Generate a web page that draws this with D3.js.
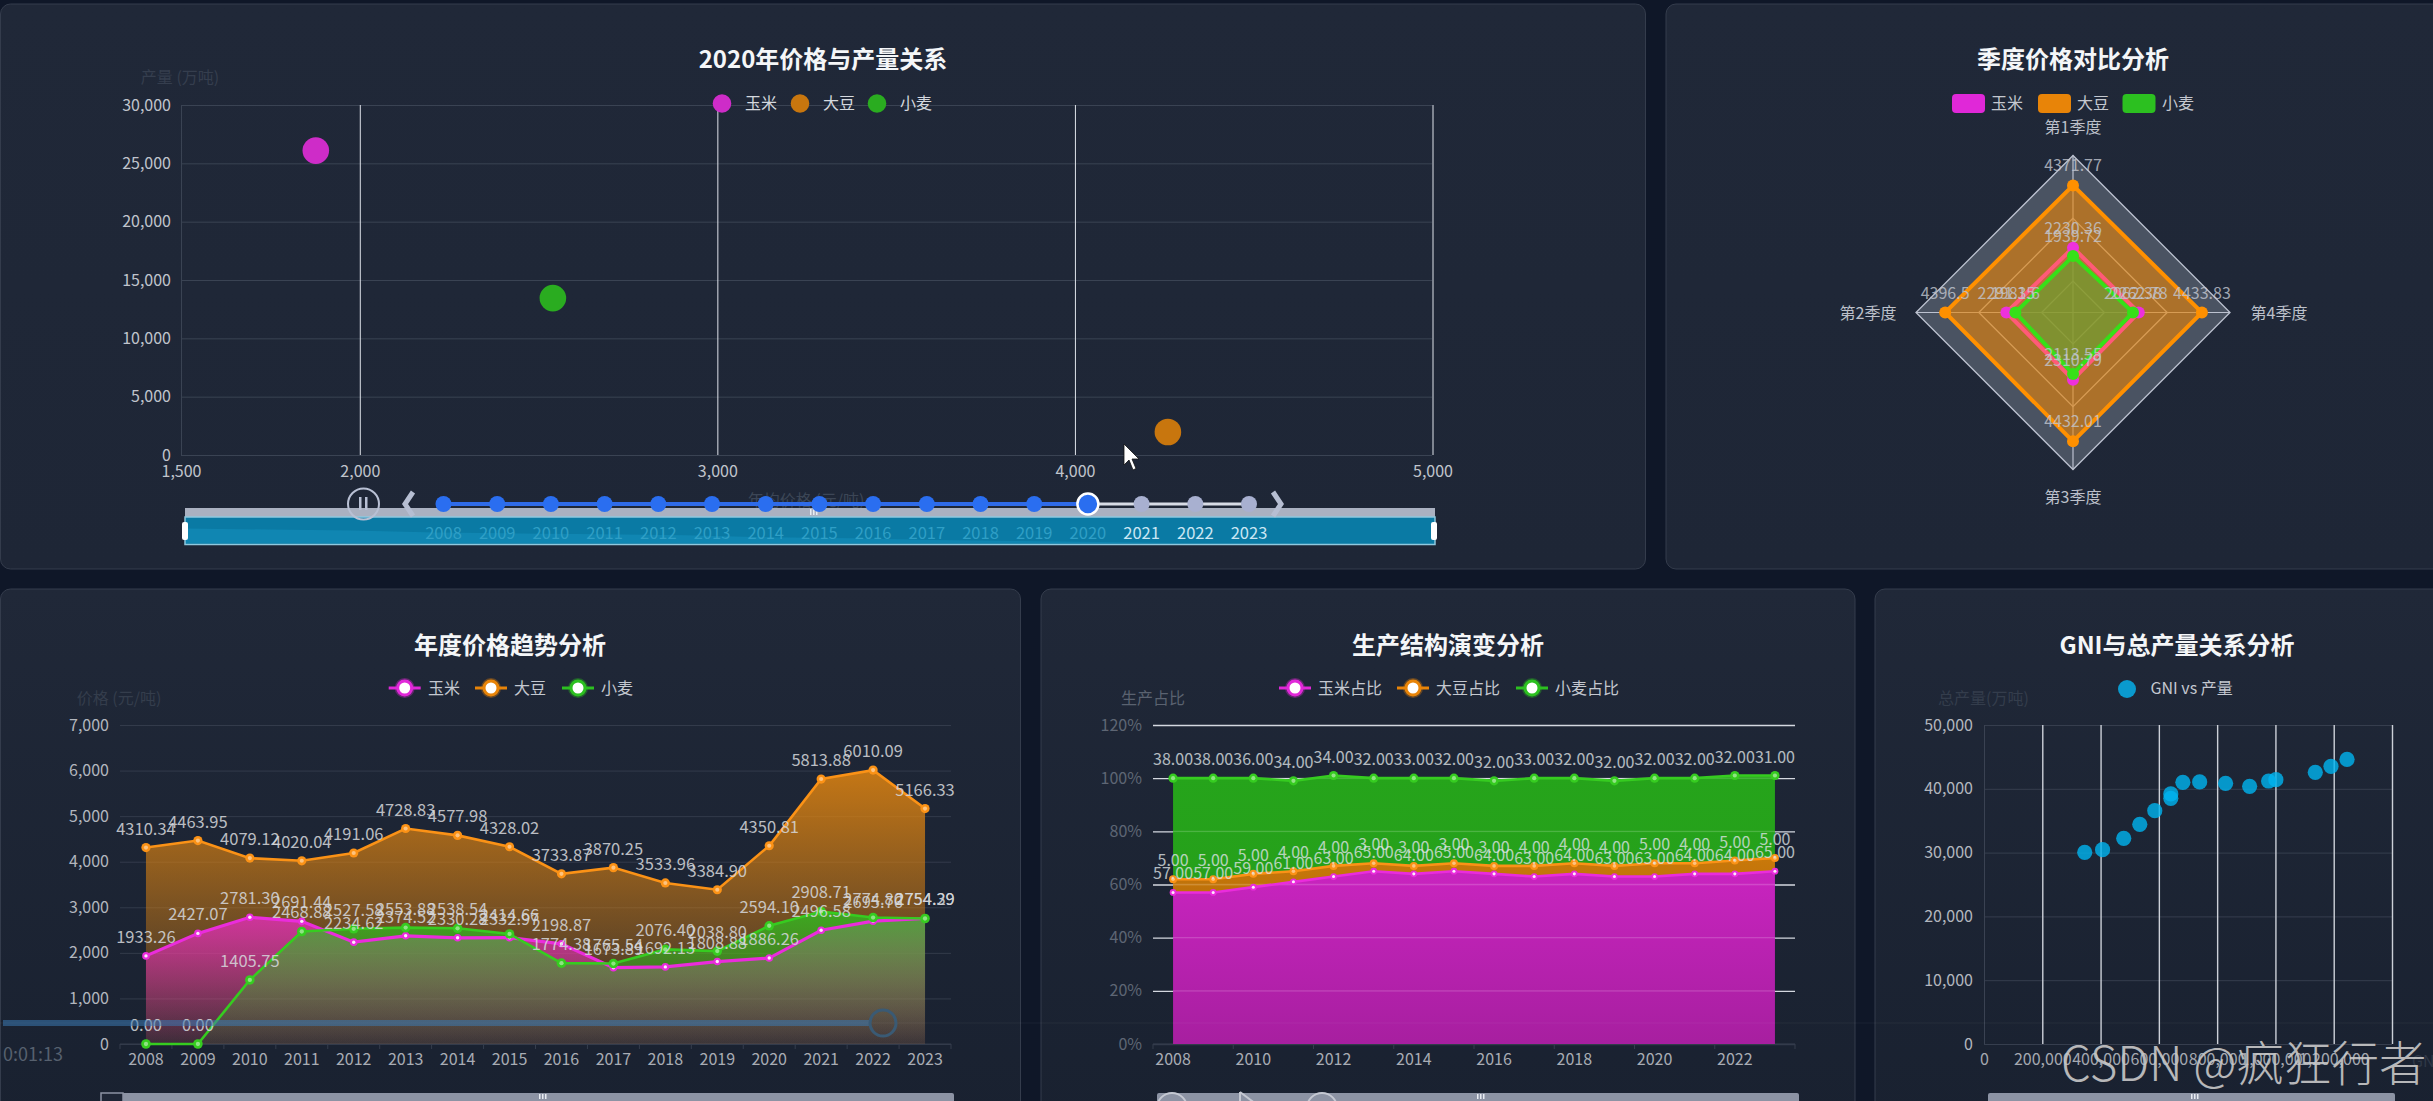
<!DOCTYPE html>
<html lang="zh"><head><meta charset="utf-8">
<script src="https://cdn.jsdelivr.net/npm/d3@7"></script>
<style>
html,body{margin:0;padding:0;background:#0f1728;overflow:hidden}
svg{display:block}
text{font-family:"Noto Sans CJK SC","Noto Sans",sans-serif}
</style></head><body><svg id="c" width="2433" height="1101"></svg>
<script>
// ---------- data ----------
const years=[2008,2009,2010,2011,2012,2013,2014,2015,2016,2017,2018,2019,2020,2021,2022,2023];
const crops=["玉米","大豆","小麦"];
const shareNames=["玉米占比","大豆占比","小麦占比"];
const scatterPrice=[1877,4260,2540];
const scatterOutput=[26090,1970,13450];
const priceCorn=[1933.26,2427.07,2781.30,2691.44,2234.62,2374.52,2330.28,2332.97,2198.87,1673.89,1692.13,1808.88,1886.26,2496.58,2695.76,2754.39];
const priceSoy=[4310.34,4463.95,4079.12,4020.04,4191.06,4728.83,4577.98,4328.02,3733.87,3870.25,3533.96,3384.90,4350.81,5813.88,6010.09,5166.33];
const priceWheat=[0,0,1405.75,2468.88,2527.58,2553.88,2538.54,2414.66,1774.38,1765.54,2076.40,2038.80,2594.10,2908.71,2774.80,2754.29];
const shareCorn=[57,57,59,61,63,65,64,65,64,63,64,63,63,64,64,65];
const shareSoy=[5,5,5,4,4,3,3,3,3,4,4,4,5,4,5,5];
const shareWheat=[38,38,36,34,34,32,33,32,32,33,32,32,32,32,32,31];
const quarters=["第1季度","第2季度","第3季度","第4季度"];
const radarCorn=[2230.36,2291.35,2310.79,2262.78];
const radarSoy=[4371.77,4396.5,4432.01,4433.83];
const radarWheat=[1939.72,1981.6,2113.55,2062.38];
const radarRings=[1080,3240,5400];
const gni=[345600,406900,479500,534600,586000,641000,641000,682400,740000,829000,911500,976600,1001600,1136800,1190600,1245700];
const totalOutput=[30040,30460,32240,34430,36570,39200,38500,41010,41070,40860,40390,41220,41430,42580,43520,44620];
const sliderShade=[15,14,13,11,10,9,8,6,5,3,2,1,0,0,0,0];
const scatterXTicks=[1500,2000,3000,4000,5000];
const scatterYTicks=[0,5000,10000,15000,20000,25000,30000];
const priceTicks=[0,1000,2000,3000,4000,5000,6000,7000];
const shareTicks=[0,20,40,60,80,100,120];
const gniTicks=[0,200000,400000,600000,800000,1000000,1200000,1400000];
const totalTicks=[0,10000,20000,30000,40000,50000];

// ---------- styles ----------
const COL=["#e028d8","#e88408","#2cc020"];
const LINE=["#ea2cdc","#fb9216","#36cc20"];
const svg=d3.select("#c");
const defs=svg.append("defs");
function grad(id,stops){
  const g=defs.append("linearGradient").attr("id",id).attr("x1",0).attr("y1",0).attr("x2",0).attr("y2",1);
  stops.forEach(s=>g.append("stop").attr("offset",s[0]).attr("stop-color",s[1]).attr("stop-opacity",s[2]));
}
grad("pTop",[[0,"#202838",1],[1,"#1e2636",1]]);
grad("pBot",[[0,"#202838",1],[1,"#192130",1]]);
grad("gCorn",[[0,"#ea2cc0",.76],[1,"#ea2cc0",.08]]);
grad("gSoy",[[0,"#e08410",.86],[1,"#e08410",.1]]);
grad("gWheat",[[0,"#2cc020",.78],[1,"#2cc020",.06]]);
const gA=["url(#gCorn)","url(#gSoy)","url(#gWheat)"];
grad("sCorn",[[0,"#cc24c2",.98],[1,"#aa1fa2",.98]]);
grad("sSoy",[[0,"#d07c08",.96],[1,"#c47408",.96]]);
grad("sWheat",[[0,"#26a81a",.97],[1,"#26a41a",.97]]);
const sA=["url(#sCorn)","url(#sSoy)","url(#sWheat)"];

// page background and panels
svg.append("rect").attr("width",2433).attr("height",1101).attr("fill","#0f1728");
[[0.5,4,1645,565,"pTop"],[1666,4,800,565,"pTop"],[0.5,589,1020,540,"pBot"],[1041,589,814,540,"pBot"],[1875,589,600,540,"pBot"]]
 .forEach(p=>svg.append("rect").attr("x",p[0]).attr("y",p[1]).attr("width",p[2]).attr("height",p[3]).attr("rx",10)
   .attr("fill",`url(#${p[4]})`).attr("stroke","#343c4c").attr("stroke-width",1));

function txt(x,y,s,o={}){
  return svg.append("text").attr("x",x).attr("y",y).attr("text-anchor",o.a||"middle").attr("dominant-baseline","central")
    .attr("font-size",o.s||16).attr("font-weight",o.w||400).attr("fill",o.c||"#c4c8d0").text(s);
}
function title(x,y,s){txt(x,y,s,{s:24,w:700,c:"#f4f6f8"});}
function styleAxis(g,tickCol,lineCol,lw){
  g.select(".domain").remove();
  g.selectAll("text").attr("font-size",16).attr("fill",tickCol);
  g.selectAll("line").attr("stroke",lineCol).attr("stroke-width",lw||1);
}
function lineLegend(cx,y,label,i,tx){
  svg.append("line").attr("x1",cx-16).attr("x2",cx+16).attr("y1",y).attr("y2",y).attr("stroke",COL[i]).attr("stroke-width",3);
  svg.append("circle").attr("cx",cx).attr("cy",y).attr("r",10).attr("fill",COL[i]).attr("opacity",.35);
  svg.append("circle").attr("cx",cx).attr("cy",y).attr("r",7).attr("fill","#fff").attr("stroke",COL[i]).attr("stroke-width",3);
  txt(tx,y-1,label,{a:"start"});
}

// ---------- 1. scatter with timeline ----------
title(823,57,"2020年价格与产量关系");
const x1=d3.scaleLinear().domain([1500,5000]).range([181,1432.5]);
const y1=d3.scaleLinear().domain([0,30000]).range([455,105]);
const ax1y=svg.append("g").attr("transform","translate(181,0)")
  .call(d3.axisLeft(y1).tickValues(scatterYTicks).tickFormat(d3.format(",")).tickSize(-1251).tickPadding(10));
styleAxis(ax1y,"#c0c4cc","#3a4353");
const ax1x=svg.append("g").attr("transform","translate(0,455)")
  .call(d3.axisBottom(x1).tickValues(scatterXTicks).tickFormat(d3.format(",")).tickSize(-350).tickPadding(11));
styleAxis(ax1x,"#c0c4cc","#dfe3ea");
ax1x.selectAll(".tick line").filter(d=>d===1500).attr("stroke","#3a4353");
txt(180,76,"产量 (万吨)",{c:"#353e4e"});
txt(806,499,"年均价格 (元/吨)",{c:"#3c4656"});
const dotCol=["#ce2cc8","#c8760e","#2aac20"];
scatterPrice.forEach((v,i)=>svg.append("circle").attr("cx",x1(v)).attr("cy",y1(scatterOutput[i])).attr("r",13.3).attr("fill",dotCol[i]));
[[722,745],[800,823],[877,900]].forEach((p,i)=>{
  svg.append("circle").attr("cx",p[0]).attr("cy",103.5).attr("r",9.3).attr("fill",dotCol[i]);
  txt(p[1],102,crops[i],{a:"start",c:"#d4d8de"});
});
// slider
svg.append("rect").attr("x",185).attr("y",508).attr("width",1250).attr("height",9).attr("fill","#aab1c1");
svg.append("rect").attr("x",185).attr("y",517).attr("width",1250).attr("height",27.5).attr("fill","#0a7aa4").attr("stroke","#8fc8de").attr("stroke-width",1.5);
const sx=d3.scalePoint().domain(years).range([186,1434]);
const sy=d3.scaleLinear().domain([0,26]).range([543,518]);
svg.append("path").datum(years).attr("fill","#1189b5").attr("opacity",.8)
  .attr("d",d3.area().x(d=>sx(d)).y0(543).y1((d,i)=>sy(sliderShade[i])));
[185,1434].forEach(x=>svg.append("rect").attr("x",x-3).attr("y",522).attr("width",6).attr("height",18).attr("rx",2).attr("fill","#fff"));
[810,813,816].forEach(x=>svg.append("rect").attr("x",x).attr("y",509).attr("width",1.5).attr("height",6).attr("fill","#e8ecf2"));
// timeline
const current=2020;
const tx=d3.scalePoint().domain(years).range([443.5,1249]);
svg.append("line").attr("x1",tx(2008)).attr("x2",tx(current)).attr("y1",504).attr("y2",504).attr("stroke","#2f6be8").attr("stroke-width",4);
svg.append("line").attr("x1",tx(current)).attr("x2",tx(2023)).attr("y1",504).attr("y2",504).attr("stroke","#d8dce6").attr("stroke-width",3);
years.forEach(y=>{
  const past=y<=current;
  if(y===current){
    svg.append("circle").attr("cx",tx(y)).attr("cy",504).attr("r",10.5).attr("fill","#2a6ef0").attr("stroke","#fff").attr("stroke-width",2.5);
  }else{
    svg.append("circle").attr("cx",tx(y)).attr("cy",504).attr("r",8).attr("fill",past?"#2a6ef0":"#a8b0d0");
  }
  txt(tx(y),532,y,{s:16.5,c:past?"#2f9fc6":"#cbe7f4",w:400});
});
svg.append("circle").attr("cx",363.5).attr("cy",504).attr("r",15.5).attr("fill","none").attr("stroke","#b8c0d4").attr("stroke-width",2);
[360,366].forEach(x=>svg.append("rect").attr("x",x-1).attr("y",497).attr("width",2.5).attr("height",13).attr("fill","#b8c0d4"));
svg.append("path").attr("d","M413,492 L405,504 L413,516").attr("fill","none").attr("stroke","#b6bed2").attr("stroke-width",5);
svg.append("path").attr("d","M1273,492 L1281,504 L1273,516").attr("fill","none").attr("stroke","#b6bed2").attr("stroke-width",5);
svg.append("path").attr("d","M1124,444 L1124,465 L1129,460 L1133,470 L1136,468.5 L1132,459 L1139,459 Z").attr("fill","#fff").attr("stroke","#111").attr("stroke-width",.8);

// ---------- 2. radar ----------
title(2073,57,"季度价格对比分析");
[[1952,1991],[2038,2077],[2122.5,2162]].forEach((p,i)=>{
  svg.append("rect").attr("x",p[0]).attr("y",94).attr("width",33).attr("height",19).attr("rx",4).attr("fill",COL[i]);
  txt(p[1],102,crops[i],{a:"start"});
});
const rr=d3.scaleLinear().domain([0,5400]).range([0,157]);
const ang=i=>-i*Math.PI/2;
const rad=d3.lineRadial().angle((d,i)=>ang(i)).radius(d=>rr(d)).curve(d3.curveLinearClosed);
const radar=svg.append("g").attr("transform","translate(2073,312.5)");
radar.append("path").attr("d",rad(quarters.map(()=>5400))).attr("fill","#4a5362");
radarRings.forEach(v=>radar.append("path").attr("d",rad(quarters.map(()=>v))).attr("fill","none").attr("stroke","#bcc2d0").attr("stroke-width",1.3));
quarters.forEach((q,i)=>radar.append("line").attr("x1",0).attr("y1",0)
  .attr("x2",rr(5400)*Math.sin(ang(i))).attr("y2",-rr(5400)*Math.cos(ang(i))).attr("stroke","#bcc2d0").attr("stroke-width",1.2));
const rs=[radarCorn,radarSoy,radarWheat];
const radFill=[.45,.62,.45], radLine=["#ff5a78","#ff9000","#36e018"], radDot=["#ee30dc","#ff9000","#36e018"];
[0,1,2].forEach(i=>{
  const v=rs[i];
  radar.append("path").attr("d",rad(v)).attr("fill",COL[i]).attr("fill-opacity",radFill[i]);
});
[1,0,2].forEach(i=>{
  const v=rs[i];
  radar.append("path").attr("d",rad(v)).attr("fill","none").attr("stroke",radLine[i]).attr("stroke-width",4);
  v.forEach((d,k)=>radar.append("circle").attr("cx",rr(d)*Math.sin(ang(k))).attr("cy",-rr(d)*Math.cos(ang(k))).attr("r",6).attr("fill",radDot[i]));
});
rs.forEach(v=>v.forEach((d,k)=>{
  const t=txt(2073+rr(d)*Math.sin(ang(k)),312.5-rr(d)*Math.cos(ang(k))-21,d3.format(".7~r")(d),{c:"#c2c6d0"});
  t.attr("opacity",.8);
}));
[[2073,126],[1868,312],[2073,496],[2279,312]].forEach((p,i)=>txt(p[0],p[1],quarters[i],{c:"#bcc0ca"}));

// ---------- shared time-series helpers ----------
function bandAxis(scale,values,y,col){
  const g=svg.append("g").attr("transform",`translate(0,${y})`)
    .call(d3.axisBottom(scale).tickValues(values).tickSize(0).tickPadding(10));
  styleAxis(g,col,"none");
  return g;
}
function boundaryTicks(scale,values,y){
  values.forEach(v=>svg.append("line").attr("x1",scale(v)).attr("x2",scale(v)).attr("y1",y).attr("y2",y+5).attr("stroke","#353d4d"));
  const last=scale.range()[1];
  svg.append("line").attr("x1",scale.range()[0]).attr("x2",last).attr("y1",y).attr("y2",y).attr("stroke","#353d4d");
  svg.append("line").attr("x1",last).attr("x2",last).attr("y1",y).attr("y2",y+5).attr("stroke","#353d4d");
}
function marks(cx,yTop,i,rad){
  years.forEach((yr,k)=>{
    svg.append("circle").attr("cx",cx(yr)).attr("cy",yTop(k)).attr("r",rad).attr("fill",LINE[i]);
    svg.append("circle").attr("cx",cx(yr)).attr("cy",yTop(k)).attr("r",rad*.45).attr("fill","#fff").attr("opacity",i===0?.9:.45);
  });
}

// ---------- 3. price trend ----------
title(510,643,"年度价格趋势分析");
const x3=d3.scaleBand().domain(years).range([120,951]);
const c3=y=>x3(y)+x3.bandwidth()/2;
const y3=d3.scaleLinear().domain([0,7000]).range([1044,725]);
const ax3=svg.append("g").attr("transform","translate(120,0)")
  .call(d3.axisLeft(y3).tickValues(priceTicks).tickFormat(d3.format(",")).tickSize(-831).tickPadding(11));
styleAxis(ax3,"#b2b6be","#333b4b");
bandAxis(x3,years,1044,"#a8acb4");
boundaryTicks(x3,years,1044);
txt(119,697,"价格 (元/吨)",{c:"#343d4c"});
[[404.7,428],[491,514],[578,601]].forEach((p,i)=>lineLegend(p[0],688,crops[i],i,p[1]));
const prices=[priceCorn,priceSoy,priceWheat];
[1,0,2].forEach(i=>{
  const v=prices[i];
  svg.append("path").attr("fill",gA[i])
    .attr("d",d3.area().x((d,k)=>c3(years[k])).y0(y3(0)).y1(d=>y3(d))(v));
});
[1,0,2].forEach(i=>{
  const v=prices[i];
  svg.append("path").attr("fill","none").attr("stroke",LINE[i]).attr("stroke-width",i===0?3.2:2.6)
    .attr("d",d3.line().x((d,k)=>c3(years[k])).y(d=>y3(d))(v));
  marks(c3,k=>y3(v[k]),i,i===0?3.8:i===1?4.6:4.8);
});
prices.forEach(v=>v.forEach((d,k)=>txt(c3(years[k]),y3(d)-20,d.toFixed(2),{s:16.5,c:"#d6d8dc"}).attr("opacity",.85)));

// ---------- 4. structure stack ----------
title(1448,643,"生产结构演变分析");
const x4=d3.scaleBand().domain(years).range([1153,1795]);
const c4=y=>x4(y)+x4.bandwidth()/2;
const y4=d3.scaleLinear().domain([0,120]).range([1044,725]);
const ax4=svg.append("g").attr("transform","translate(1153,0)")
  .call(d3.axisLeft(y4).tickValues(shareTicks).tickFormat(d=>d+"%").tickSize(-642).tickPadding(11));
styleAxis(ax4,"#5e6674","#d4d8e0",1.4);
ax4.selectAll(".tick line").filter(d=>d===0).attr("stroke","#333b4b");
const oddYears=years.filter((y,i)=>i%2===0);
bandAxis(x4,oddYears,1044,"#a8acb4");
boundaryTicks(x4,oddYears,1044);
txt(1153,697,"生产占比",{c:"#5a6270"});
[[1295,1318],[1413,1436],[1532,1555]].forEach((p,i)=>lineLegend(p[0],688,shareNames[i],i,p[1]));
const rows=years.map((y,k)=>({y,a:shareCorn[k],b:shareSoy[k],c:shareWheat[k]}));
const stacked=d3.stack().keys(["a","b","c"])(rows);
stacked.forEach((s,i)=>{
  svg.append("path").attr("fill",sA[i])
    .attr("d",d3.area().x(d=>c4(d.data.y)).y0(d=>y4(d[0])).y1(d=>y4(d[1]))(s));
});
// grid lines show faintly through the translucent areas
shareTicks.slice(1,-1).forEach(v=>{
  const top=d3.max(stacked[2],d=>d[1]);
  if(v<top) svg.append("line").attr("x1",x4.range()[0]+20).attr("x2",x4.range()[1]-20).attr("y1",y4(v)).attr("y2",y4(v)).attr("stroke","#fff").attr("stroke-opacity",.16).attr("stroke-width",1.4);
});
stacked.forEach((s,i)=>{
  svg.append("path").attr("fill","none").attr("stroke",LINE[i]).attr("stroke-width",2.6)
    .attr("d",d3.line().x(d=>c4(d.data.y)).y(d=>y4(d[1]))(s));
  marks(c4,k=>y4(s[k][1]),i,i===0?3.4:i===1?4:4.6);
});
stacked.forEach(s=>s.forEach(d=>txt(c4(d.data.y),y4(d[1])-20,(d[1]-d[0]).toFixed(2),{c:"#dfe3e6"}).attr("opacity",.78)));

// ---------- 5. GNI scatter ----------
title(2177,643,"GNI与总产量关系分析");
const x5=d3.scaleLinear().domain([0,1400000]).range([1984,2392]);
const y5=d3.scaleLinear().domain([0,50000]).range([1044,725]);
const ax5y=svg.append("g").attr("transform","translate(1984,0)")
  .call(d3.axisLeft(y5).tickValues(totalTicks).tickFormat(d3.format(",")).tickSize(-408).tickPadding(11));
styleAxis(ax5y,"#b2b6be","#363e4e");
const ax5x=svg.append("g").attr("transform","translate(0,1044)")
  .call(d3.axisBottom(x5).tickValues(gniTicks).tickFormat(d=>d===1400000?"":d3.format(",")(d)).tickSize(-319).tickPadding(10));
styleAxis(ax5x,"#a4a8b0","#ccd0d8",1.4);
ax5x.selectAll(".tick line").filter(d=>d===0).attr("stroke","#3a4252").attr("stroke-width",1);
txt(1983.5,697,"总产量(万吨)",{c:"#343d4c"});
txt(2412,1060,"GNI (亿元)",{a:"start",c:"#2f3847"});
svg.append("circle").attr("cx",2127).attr("cy",689).attr("r",9).attr("fill","#0a9ace");
txt(2150.5,687,"GNI vs 产量",{a:"start"});
gni.forEach((v,i)=>svg.append("circle").attr("cx",x5(v)).attr("cy",y5(totalOutput[i])).attr("r",7.6).attr("fill","#00b4f0").attr("opacity",.8));

// ---------- video player overlay ----------
svg.append("line").attr("x1",0).attr("x2",2433).attr("y1",1023).attr("y2",1023).attr("stroke","#fff").attr("stroke-opacity",.05);
svg.append("rect").attr("x",3).attr("y",1020).attr("width",866).attr("height",6).attr("fill","#3a78b0").attr("opacity",.55);
svg.append("circle").attr("cx",883).attr("cy",1023).attr("r",13).attr("fill","none").attr("stroke","#3a5a74").attr("stroke-width",3);
txt(3,1053,"0:01:13",{a:"start",s:18,c:"#56606e"});
[[101,954],[1157,1799],[1988,2395]].forEach(p=>svg.append("rect").attr("x",p[0]).attr("y",1093).attr("width",p[1]-p[0]).attr("height",10).attr("rx",2).attr("fill","#8c93a4"));
svg.append("rect").attr("x",101).attr("y",1093).attr("width",22).attr("height",10).attr("fill","#1e2636").attr("stroke","#8c93a4").attr("stroke-width",1.5);
[[539,1097],[1477,1097],[2191,1097]].forEach(p=>[0,3,6].forEach(d=>svg.append("rect").attr("x",p[0]+d).attr("y",1094).attr("width",1.5).attr("height",5).attr("fill","#e8ecf2")));
[1172,1322].forEach(x=>svg.append("circle").attr("cx",x).attr("cy",1108).attr("r",15).attr("fill","none").attr("stroke","#c4c8d2").attr("stroke-width",2));
svg.append("path").attr("d","M1240,1092 L1240,1108 M1240,1092 L1256,1104").attr("fill","none").attr("stroke","#c4c8d2").attr("stroke-width",2);

// watermark
txt(2061,1060,"CSDN @疯狂行者",{a:"start",s:47.5,c:"#c8c8c8"}).attr("opacity",.9).attr("font-weight",300);
</script></body></html>
